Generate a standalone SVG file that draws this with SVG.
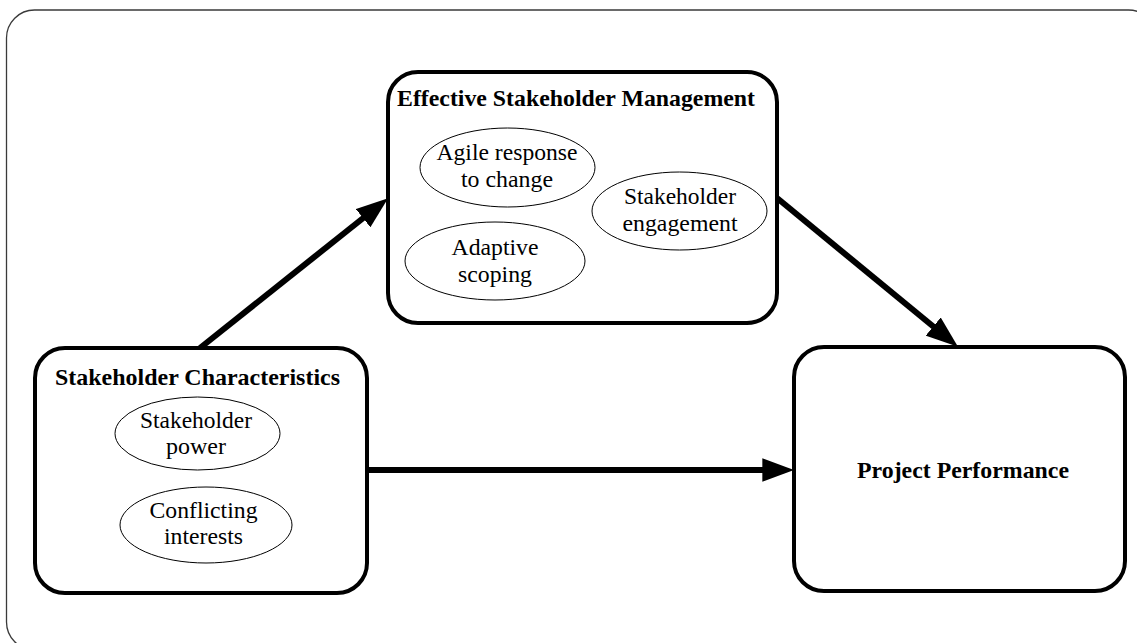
<svg xmlns="http://www.w3.org/2000/svg" width="1137" height="643" viewBox="0 0 1137 643">
<style>
.frame{fill:none;stroke:#3a3a3a;stroke-width:1.3}
.box{fill:#fff;stroke:#000;stroke-width:4}
.ell{fill:#fff;stroke:#000;stroke-width:1}
.t{font-family:"Liberation Serif","Times New Roman",Times,serif;font-size:23px;fill:#000;text-anchor:middle}
.b{font-weight:bold}
.conn{stroke:#000;stroke-width:6;fill:none;marker-end:url(#ah)}
</style>
<defs>
<marker id="ah" markerUnits="userSpaceOnUse" markerWidth="32" markerHeight="24" refX="10" refY="11" orient="auto" viewBox="0 0 30 22">
<path d="M0,0 L30,11 L0,22 z" fill="#000"/>
</marker>
</defs>
<rect width="1137" height="643" fill="#fff"/>
<rect class="frame" x="6.5" y="10" width="1150" height="640" rx="28" ry="28"/>

<g id="connectors">
<line class="conn" x1="200" y1="348" x2="371.4" y2="211.5"/>
<line class="conn" x1="777" y1="198" x2="941.5" y2="333.3"/>
<line class="conn" x1="366" y1="470" x2="773" y2="470"/>
</g>

<g id="esm">
<rect class="box" x="388" y="72" width="389" height="251" rx="30" ry="30"/>
<text class="t b" x="576" y="105.5" textLength="358" lengthAdjust="spacingAndGlyphs">Effective Stakeholder Management</text>
</g>
<g id="agile">
<ellipse class="ell" cx="507.5" cy="167.5" rx="87.5" ry="39.5"/>
<text class="t" x="507" y="160" textLength="141" lengthAdjust="spacingAndGlyphs">Agile response</text>
<text class="t" x="507" y="187" textLength="92" lengthAdjust="spacingAndGlyphs">to change</text>
</g>
<g id="engagement">
<ellipse class="ell" cx="679.5" cy="211" rx="87.5" ry="39"/>
<text class="t" x="680" y="203.5" textLength="112" lengthAdjust="spacingAndGlyphs">Stakeholder</text>
<text class="t" x="680" y="231" textLength="115" lengthAdjust="spacingAndGlyphs">engagement</text>
</g>
<g id="adaptive">
<ellipse class="ell" cx="495" cy="261" rx="90" ry="39"/>
<text class="t" x="495" y="254.5" textLength="87" lengthAdjust="spacingAndGlyphs">Adaptive</text>
<text class="t" x="495" y="281.5" textLength="74" lengthAdjust="spacingAndGlyphs">scoping</text>
</g>

<g id="sc">
<rect class="box" x="35" y="348" width="332" height="245" rx="30" ry="30"/>
<text class="t b" x="197.5" y="384.5" textLength="285" lengthAdjust="spacingAndGlyphs">Stakeholder Characteristics</text>
</g>
<g id="power">
<ellipse class="ell" cx="197.5" cy="433.5" rx="82.5" ry="36.5"/>
<text class="t" x="196" y="427.5" textLength="112" lengthAdjust="spacingAndGlyphs">Stakeholder</text>
<text class="t" x="196" y="453.5" textLength="60" lengthAdjust="spacingAndGlyphs">power</text>
</g>
<g id="conflict">
<ellipse class="ell" cx="206" cy="525" rx="86" ry="38"/>
<text class="t" x="203.5" y="517.5" textLength="108" lengthAdjust="spacingAndGlyphs">Conflicting</text>
<text class="t" x="203.5" y="543.5" textLength="79" lengthAdjust="spacingAndGlyphs">interests</text>
</g>

<g id="pp">
<rect class="box" x="794" y="347" width="331" height="244" rx="30" ry="30"/>
<text class="t b" x="963" y="478" textLength="212" lengthAdjust="spacingAndGlyphs">Project Performance</text>
</g>
</svg>
